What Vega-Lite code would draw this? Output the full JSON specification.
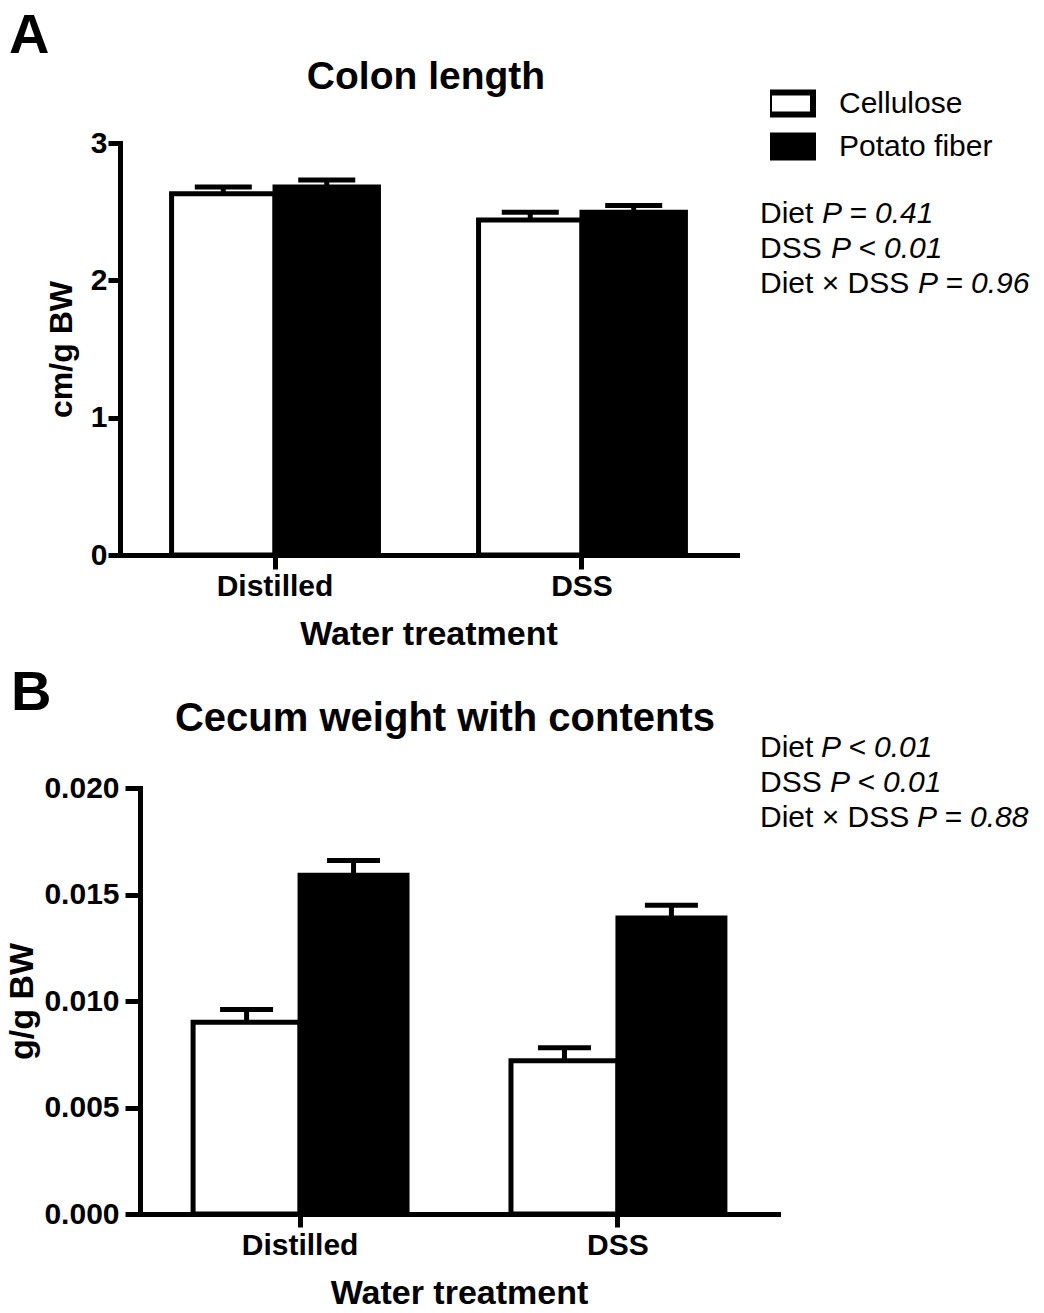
{
  "$schema": "https://vega.github.io/schema/vega-lite/v6.json",
  "background": "white",
  "width": 1044,
  "height": 1313,
  "autosize": {"type": "none"},
  "padding": 0,
  "config": {
    "font": "Liberation Sans",
    "view": {"stroke": null},
    "axis": {
      "domainColor": "black", "domainWidth": 5, "domainCap": "square",
      "tickColor": "black", "tickWidth": 5,
      "labelColor": "black", "labelFont": "Liberation Sans", "labelFontWeight": "bold",
      "titleColor": "black", "titleFont": "Liberation Sans", "titleFontWeight": "bold",
      "grid": false
    },
    "text": {"color": "black", "font": "Liberation Sans"}
  },
  "datasets": {
    "colon": [
      {"Water": "Distilled", "Diet": "Cellulose", "mean": 2.63, "upper": 2.68},
      {"Water": "Distilled", "Diet": "Potato fiber", "mean": 2.68, "upper": 2.73},
      {"Water": "DSS", "Diet": "Cellulose", "mean": 2.44, "upper": 2.495},
      {"Water": "DSS", "Diet": "Potato fiber", "mean": 2.495, "upper": 2.545}
    ],
    "cecum": [
      {"Water": "Distilled", "Diet": "Cellulose", "mean": 0.009, "upper": 0.0096},
      {"Water": "Distilled", "Diet": "Potato fiber", "mean": 0.0159, "upper": 0.0166},
      {"Water": "DSS", "Diet": "Cellulose", "mean": 0.0072, "upper": 0.0078},
      {"Water": "DSS", "Diet": "Potato fiber", "mean": 0.0139, "upper": 0.0145}
    ]
  },
  "layer": [
    {
      "data": {"name": "colon"},
      "layer": [
        {
          "mark": {"type": "bar", "stroke": "black", "strokeWidth": 5, "strokeJoin": "miter"},
          "encoding": {
            "x": {"field": "Water", "type": "nominal", "sort": ["Distilled", "DSS"],
                  "scale": {"range": [120, 737], "paddingInner": 0.326, "paddingOuter": 0.168},
                  "axis": {"orient": "bottom", "offset": -758, "title": "Water treatment", "titleFontSize": 34, "labelFontSize": 30, "labelAngle": 0, "tickSize": 14, "labelPadding": 2, "titlePadding": 16}},
            "xOffset": {"field": "Diet", "type": "nominal", "sort": ["Cellulose", "Potato fiber"]},
            "y": {"field": "mean", "type": "quantitative", "scale": {"domain": [0, 3], "nice": false, "range": [555, 143]},
                  "axis": {"orient": "left", "offset": -120, "title": "cm/g BW", "titleFontSize": 32, "labelFontSize": 30, "values": [0, 1, 2, 3], "format": "d", "tickSize": 12, "labelPadding": 1, "titlePadding": 12}},
            "fill": {"field": "Diet", "type": "nominal",
                     "scale": {"domain": ["Cellulose", "Potato fiber"], "range": ["white", "black"]},
                     "legend": {"orient": "none", "legendX": 770, "legendY": 83, "title": null, "padding": 0,
                                "symbolType": "M-1.25,-0.62H1.25V0.62H-1.25Z", "symbolSize": 1239,
                                "symbolStrokeColor": "black", "symbolStrokeWidth": 6, "symbolOpacity": 1,
                                "labelFont": "Liberation Sans", "labelFontSize": 30, "labelColor": "black",
                                "labelOffset": 27, "rowPadding": 2, "clipHeight": 41}}
          }
        },
        {
          "mark": {"type": "rule", "color": "black", "strokeWidth": 5},
          "encoding": {
            "x": {"field": "Water", "type": "nominal", "sort": ["Distilled", "DSS"]},
            "xOffset": {"field": "Diet", "type": "nominal", "sort": ["Cellulose", "Potato fiber"]},
            "y": {"field": "mean", "type": "quantitative", "title": "cm/g BW"},
            "y2": {"field": "upper"}
          }
        },
        {
          "mark": {"type": "tick", "color": "black", "opacity": 1, "thickness": 5, "size": 57},
          "encoding": {
            "x": {"field": "Water", "type": "nominal", "sort": ["Distilled", "DSS"]},
            "xOffset": {"field": "Diet", "type": "nominal", "sort": ["Cellulose", "Potato fiber"]},
            "y": {"field": "upper", "type": "quantitative", "title": "cm/g BW"}
          }
        }
      ]
    },
    {
      "data": {"name": "cecum"},
      "layer": [
        {
          "mark": {"type": "bar", "stroke": "black", "strokeWidth": 5, "strokeJoin": "miter"},
          "encoding": {
            "x": {"field": "Water", "type": "nominal", "sort": ["Distilled", "DSS"],
                  "scale": {"range": [140, 778], "paddingInner": 0.327, "paddingOuter": 0.167},
                  "axis": {"orient": "bottom", "offset": -99, "title": "Water treatment", "titleFontSize": 34, "labelFontSize": 30, "labelAngle": 0, "tickSize": 13, "labelPadding": 3, "titlePadding": 16}},
            "xOffset": {"field": "Diet", "type": "nominal", "sort": ["Cellulose", "Potato fiber"]},
            "y": {"field": "mean", "type": "quantitative", "scale": {"domain": [0, 0.02], "nice": false, "range": [1214, 788]},
                  "axis": {"orient": "left", "offset": -140, "title": "g/g BW", "titleFontSize": 34, "labelFontSize": 30, "values": [0, 0.005, 0.01, 0.015, 0.02], "format": ".3f", "tickSize": 15, "labelPadding": 6, "titlePadding": 4}},
            "fill": {"field": "Diet", "type": "nominal",
                     "scale": {"domain": ["Cellulose", "Potato fiber"], "range": ["white", "black"]}}
          }
        },
        {
          "mark": {"type": "rule", "color": "black", "strokeWidth": 5},
          "encoding": {
            "x": {"field": "Water", "type": "nominal", "sort": ["Distilled", "DSS"]},
            "xOffset": {"field": "Diet", "type": "nominal", "sort": ["Cellulose", "Potato fiber"]},
            "y": {"field": "mean", "type": "quantitative", "title": "g/g BW"},
            "y2": {"field": "upper"}
          }
        },
        {
          "mark": {"type": "tick", "color": "black", "opacity": 1, "thickness": 5, "size": 53},
          "encoding": {
            "x": {"field": "Water", "type": "nominal", "sort": ["Distilled", "DSS"]},
            "xOffset": {"field": "Diet", "type": "nominal", "sort": ["Cellulose", "Potato fiber"]},
            "y": {"field": "upper", "type": "quantitative", "title": "g/g BW"}
          }
        }
      ]
    },
    {
      "data": {"values": [{"t": "A"}]},
      "mark": {"type": "text", "fontSize": 56, "fontWeight": "bold", "align": "left", "baseline": "alphabetic"},
      "encoding": {"text": {"field": "t"}, "x": {"value": 9}, "y": {"value": 53}}
    },
    {
      "data": {"values": [{"t": "B"}]},
      "mark": {"type": "text", "fontSize": 56, "fontWeight": "bold", "align": "left", "baseline": "alphabetic"},
      "encoding": {"text": {"field": "t"}, "x": {"value": 11}, "y": {"value": 710}}
    },
    {
      "data": {"values": [{"t": "Colon length"}]},
      "mark": {"type": "text", "fontSize": 39, "fontWeight": "bold", "align": "center", "baseline": "alphabetic"},
      "encoding": {"text": {"field": "t"}, "x": {"value": 426}, "y": {"value": 89}}
    },
    {
      "data": {"values": [{"t": "Cecum weight with contents"}]},
      "mark": {"type": "text", "fontSize": 40, "fontWeight": "bold", "align": "center", "baseline": "alphabetic"},
      "encoding": {"text": {"field": "t"}, "x": {"value": 445}, "y": {"value": 731}}
    },
    {
      "data": {"values": [{"t": "Diet"}]},
      "mark": {"type": "text", "fontSize": 30, "align": "left", "baseline": "alphabetic"},
      "encoding": {"text": {"field": "t"}, "x": {"value": 760}, "y": {"value": 223}}
    },
    {
      "data": {"values": [{"t": "P = 0.41"}]},
      "mark": {"type": "text", "fontSize": 30, "fontStyle": "italic", "align": "left", "baseline": "alphabetic"},
      "encoding": {"text": {"field": "t"}, "x": {"value": 822}, "y": {"value": 223}}
    },
    {
      "data": {"values": [{"t": "DSS"}]},
      "mark": {"type": "text", "fontSize": 30, "align": "left", "baseline": "alphabetic"},
      "encoding": {"text": {"field": "t"}, "x": {"value": 760}, "y": {"value": 258}}
    },
    {
      "data": {"values": [{"t": "P < 0.01"}]},
      "mark": {"type": "text", "fontSize": 30, "fontStyle": "italic", "align": "left", "baseline": "alphabetic"},
      "encoding": {"text": {"field": "t"}, "x": {"value": 831}, "y": {"value": 258}}
    },
    {
      "data": {"values": [{"t": "Diet × DSS"}]},
      "mark": {"type": "text", "fontSize": 30, "align": "left", "baseline": "alphabetic"},
      "encoding": {"text": {"field": "t"}, "x": {"value": 760}, "y": {"value": 293}}
    },
    {
      "data": {"values": [{"t": "P = 0.96"}]},
      "mark": {"type": "text", "fontSize": 30, "fontStyle": "italic", "align": "left", "baseline": "alphabetic"},
      "encoding": {"text": {"field": "t"}, "x": {"value": 918}, "y": {"value": 293}}
    },
    {
      "data": {"values": [{"t": "Diet"}]},
      "mark": {"type": "text", "fontSize": 30, "align": "left", "baseline": "alphabetic"},
      "encoding": {"text": {"field": "t"}, "x": {"value": 760}, "y": {"value": 757}}
    },
    {
      "data": {"values": [{"t": "P < 0.01"}]},
      "mark": {"type": "text", "fontSize": 30, "fontStyle": "italic", "align": "left", "baseline": "alphabetic"},
      "encoding": {"text": {"field": "t"}, "x": {"value": 821}, "y": {"value": 757}}
    },
    {
      "data": {"values": [{"t": "DSS"}]},
      "mark": {"type": "text", "fontSize": 30, "align": "left", "baseline": "alphabetic"},
      "encoding": {"text": {"field": "t"}, "x": {"value": 760}, "y": {"value": 792}}
    },
    {
      "data": {"values": [{"t": "P < 0.01"}]},
      "mark": {"type": "text", "fontSize": 30, "fontStyle": "italic", "align": "left", "baseline": "alphabetic"},
      "encoding": {"text": {"field": "t"}, "x": {"value": 830}, "y": {"value": 792}}
    },
    {
      "data": {"values": [{"t": "Diet × DSS"}]},
      "mark": {"type": "text", "fontSize": 30, "align": "left", "baseline": "alphabetic"},
      "encoding": {"text": {"field": "t"}, "x": {"value": 760}, "y": {"value": 827}}
    },
    {
      "data": {"values": [{"t": "P = 0.88"}]},
      "mark": {"type": "text", "fontSize": 30, "fontStyle": "italic", "align": "left", "baseline": "alphabetic"},
      "encoding": {"text": {"field": "t"}, "x": {"value": 917}, "y": {"value": 827}}
    }
  ],
  "resolve": {
    "scale": {"x": "independent", "y": "independent", "xOffset": "independent"},
    "axis": {"x": "independent", "y": "independent"}
  }
}
